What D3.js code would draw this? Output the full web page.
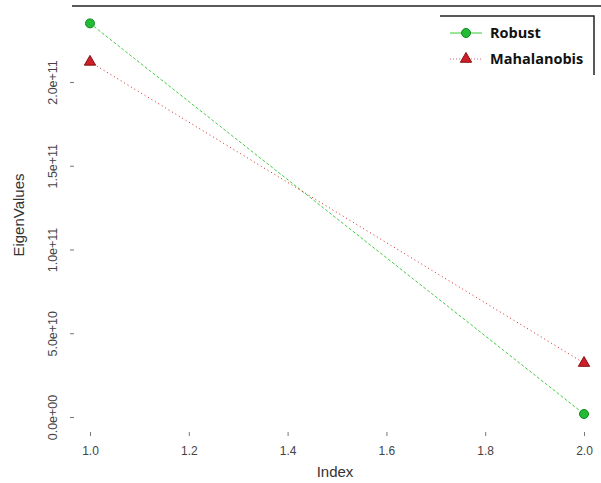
<!DOCTYPE html>
<html><head><meta charset="utf-8">
<script src="https://cdn.jsdelivr.net/npm/d3@7"></script>
<style>body{margin:0;background:#fff}</style>
</head><body>
<script>
const indexValues = [1, 2];
const robust = [2.35e11, 1.8e9];
const mahalanobis = [2.12e11, 3.22e10];
const xTicks = [1.0, 1.2, 1.4, 1.6, 1.8, 2.0];
const yTicks = [0, 5e10, 1e11, 1.5e11, 2e11];
const yTickLabels = ["0.0e+00", "5.0e+10", "1.0e+11", "1.5e+11", "2.0e+11"];
const seriesNames = ["Robust", "Mahalanobis"];

const W = 601, H = 483;
const svg = d3.select("body").append("svg").attr("width", W).attr("height", H)
  .style("font-family", "Liberation Sans, Arial, sans-serif");

const x = d3.scaleLinear().domain([1, 2]).range([90, 584]);
const y = d3.scaleLinear().domain([0, 2e11]).range([417, 82]);

// top border line
svg.append("line").attr("x1", 72).attr("x2", 601).attr("y1", 6).attr("y2", 6)
  .attr("stroke", "#222").attr("stroke-width", 1.5);

// x axis
const xAxis = svg.append("g").attr("transform", "translate(0,432)")
  .call(d3.axisBottom(x).tickValues(xTicks).tickFormat(d3.format(".1f")).tickSize(4).tickPadding(10));
xAxis.select(".domain").remove();
xAxis.selectAll("line").attr("stroke", "#777");
xAxis.selectAll("text").attr("font-size", 12).attr("fill", "#444");

// y axis
const yAxis = svg.append("g").attr("transform", "translate(70,0)")
  .call(d3.axisLeft(y).tickValues(yTicks).tickFormat((d, i) => yTickLabels[i]).tickSize(-4).tickPadding(0));
yAxis.select(".domain").remove();
yAxis.selectAll("line").attr("stroke", "#777");
yAxis.selectAll("text")
  .attr("font-size", 12.5).attr("fill", "#444")
  .attr("text-anchor", "middle")
  .attr("x", 0).attr("dy", 0)
  .attr("transform", "translate(-13,0) rotate(-90)");

// axis titles
svg.append("text").attr("x", 335).attr("y", 477).attr("text-anchor", "middle")
  .attr("font-size", 15).attr("fill", "#333").text("Index");
svg.append("text").attr("transform", "translate(24,215) rotate(-90)").attr("text-anchor", "middle")
  .attr("font-size", 15).attr("fill", "#333").text("EigenValues");

const line = d3.line().x((d, i) => x(indexValues[i])).y(d => y(d));

// lines
svg.append("path").datum(robust).attr("d", line).attr("fill", "none")
  .attr("stroke", "#44cc44").attr("stroke-width", 1).attr("stroke-dasharray", "3,2");
svg.append("path").datum(mahalanobis).attr("d", line).attr("fill", "none")
  .attr("stroke", "#dd2222").attr("stroke-width", 1).attr("stroke-dasharray", "1,3");

// points
svg.selectAll(".rob").data(robust).enter().append("circle")
  .attr("cx", (d, i) => x(indexValues[i])).attr("cy", d => y(d)).attr("r", 4.5)
  .attr("fill", "#22bb33").attr("stroke", "#118822").attr("stroke-width", 1);
const tri = d3.symbol().type(d3.symbolTriangle).size(55);
svg.selectAll(".mah").data(mahalanobis).enter().append("path")
  .attr("d", tri)
  .attr("transform", (d, i) => `translate(${x(indexValues[i])},${y(d)})`)
  .attr("fill", "#cc1f2a").attr("stroke", "#881111").attr("stroke-width", 1);

// legend
const lg = svg.append("g");
lg.append("polyline").attr("points", "440,16 594,16 594,75").attr("fill", "none")
  .attr("stroke", "#222").attr("stroke-width", 1.5);
const rows = [33, 59];
lg.append("line").attr("x1", 450).attr("x2", 482).attr("y1", rows[0]).attr("y2", rows[0])
  .attr("stroke", "#33cc33").attr("stroke-width", 1);
lg.append("circle").attr("cx", 466).attr("cy", rows[0]).attr("r", 4.5)
  .attr("fill", "#22bb33").attr("stroke", "#118822");
lg.append("line").attr("x1", 450).attr("x2", 482).attr("y1", rows[1]).attr("y2", rows[1])
  .attr("stroke", "#dd6677").attr("stroke-width", 1).attr("stroke-dasharray", "1,2");
lg.append("path").attr("d", tri).attr("transform", `translate(466,${rows[1]})`)
  .attr("fill", "#cc1f2a").attr("stroke", "#881111");
lg.selectAll(".lt").data(seriesNames).enter().append("text")
  .attr("x", 490).attr("y", (d, i) => rows[i] + 5)
  .attr("font-size", 14.5).attr("font-weight", "bold").attr("fill", "#111")
  .style("font-family", "Open Sans, Noto Sans, sans-serif")
  .text(d => d);
</script>
</body></html>
